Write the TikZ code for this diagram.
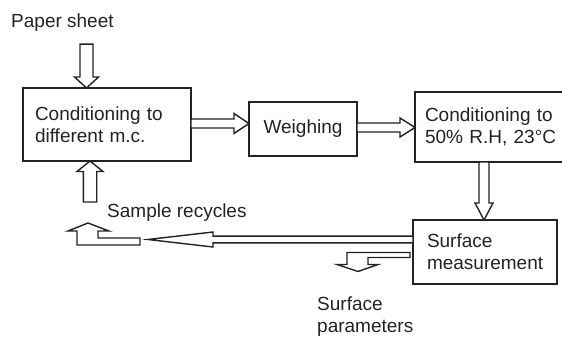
\documentclass[tikz,border=0pt]{standalone}
\usepackage{fontspec}
\setmainfont{Liberation Sans}
\usetikzlibrary{calc,positioning}
\definecolor{ink}{HTML}{222222}
% hollow block arrow: from, to, half shaft, half head, head length
\newcommand{\hollowarrow}[5]{%
  \coordinate (ha-s) at (#1);
  \coordinate (ha-e) at (#2);
  \coordinate (ha-h) at ($(ha-e)!#5!(ha-s)$);
  \draw[arrowline] ($(ha-s)!#3!90:(ha-e)$) -- ($(ha-h)!#3!90:(ha-e)$) -- ($(ha-h)!#4!90:(ha-e)$)
    -- (ha-e) -- ($(ha-h)!#4!-90:(ha-e)$) -- ($(ha-h)!#3!-90:(ha-e)$) -- ($(ha-s)!#3!-90:(ha-e)$) -- cycle;}

\begin{document}
\begin{tikzpicture}[x=1pt,y=1pt,font=\fontsize{19}{22}\selectfont,text=ink]
  \tikzset{stagebox/.style={draw=ink,line width=1.6pt,outer sep=0pt,inner ysep=0pt,align=left},
    arrowline/.style={draw=ink,line width=1.4pt,line join=miter,fill=white}}
  \useasboundingbox (0,0) rectangle (562,338);
  \clip (0,0) rectangle (562,338);
  \node[anchor=base west,inner sep=0pt] (sheet) at (11,310) {Paper sheet};
  \node[stagebox,text width=144pt,inner xsep=12pt,minimum height=73pt] (cond) at (107,213.5) {Conditioning to\\different m.c.};
  \node[stagebox,align=center,inner xsep=0pt,minimum width=108pt,minimum height=54pt,right=58pt of cond,yshift=-4.5pt] (weigh) {Weighing};
  \node[stagebox,text width=140pt,inner xsep=10pt,minimum height=70pt,right=58pt of weigh,yshift=2pt] (ambient) {Conditioning to\\50\% R.H, 23°C};
  \node[stagebox,text width=116pt,inner xsep=14pt,minimum height=64pt,below=58pt of ambient,xshift=-10pt] (surf) {Surface\\measurement};
  \coordinate (recycle) at ($(surf.west)+(-265,12.5)$);
  \node[anchor=base west,inner sep=0pt] (recyclelabel) at ($(recycle)+(-41,22.5)$) {Sample recycles};
  \node[anchor=north west,inner sep=0pt,align=left] (params) at ($(surf.west)+(-96,-45)$) {Surface\\parameters};
  \hollowarrow{$(cond.north |- sheet.south)+(-20.5,-12)$}{$(cond.north)+(-20.5,0)$}{6.5pt}{12pt}{11pt}
  \hollowarrow{$(cond.east)+(0,1)$}{$(weigh.west)+(0,5.5)$}{4.5pt}{10pt}{15pt}
  \hollowarrow{$(weigh.east)+(0,1.5)$}{$(ambient.west)+(0,-0.5)$}{4.5pt}{9.5pt}{15pt}
  \hollowarrow{$(ambient.south -| surf.north)+(-1,0)$}{$(surf.north)+(-1,0)$}{5pt}{9pt}{17pt}
  \hollowarrow{$(surf.west)+(0,12.5)$}{recycle}{3.4pt}{7.5pt}{65pt}
  \hollowarrow{$(cond.south)+(-17,-41)$}{$(cond.south)+(-17,0)$}{6.7pt}{13pt}{10.5pt}
  \draw[arrowline] ($(recycle)+(-8,1.5)$) -- ++(-42,0) -- ++(0,7) -- ++(11,0) -- ++(-21,8) -- ++(-20,-8) -- ++(9,0) -- ++(0,-14) -- ++(63,0) -- cycle;
  \draw[arrowline] ($(surf.west)+(-3,-0.5)$) -- ++(-63,0) -- ++(0,-12) -- ++(-10,0) -- ++(21,-7) -- ++(20,7) -- ++(-10,0) -- ++(0,7) -- ++(42,0) -- cycle;
\end{tikzpicture}
\end{document}
